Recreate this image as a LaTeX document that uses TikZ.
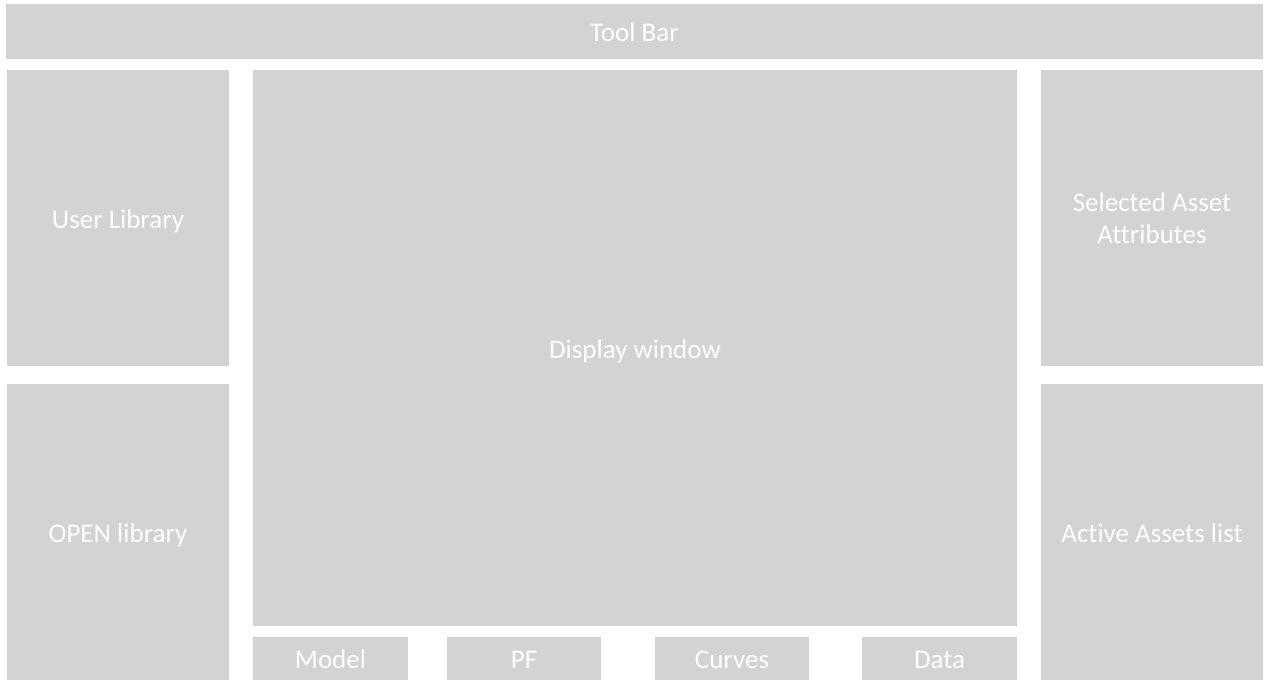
\documentclass[tikz,border=0pt]{standalone}
\usepackage{fontspec}
\setmainfont{Carlito}[Ligatures=NoCommon]
\usepackage{xcolor}

\definecolor{panelgray}{HTML}{D3D3D3}

\begin{document}
\begin{tikzpicture}[x=1pt,y=-1pt,
  panelbase/.style={fill=panelgray,text=white,inner sep=0pt,align=center,
    font=\fontsize{27}{32}\selectfont},
  panel/.style={panelbase,text height=25pt,text depth=5pt}]
\fill[white] (0,0) rectangle (1270,688);
\useasboundingbox (0,0) rectangle (1270,688);

% top bar
\node[panel,minimum width=1257pt,minimum height=55pt] (toolbar) at (634.5,31.5) {Tool Bar};

% left column
\node[panel,minimum width=222pt,minimum height=296pt] (userlib) at (118,218) {User Library};
\node[panel,minimum width=222pt,minimum height=296pt] (openlib) at (118,532) {OPEN library};

% centre
\node[panel,minimum width=764pt,minimum height=556pt] (display) at (635,348) {Display window};

\node[panel,minimum width=155pt,minimum height=43pt] (model) at (330.5,658.5) {Model};
\node[panel,minimum width=154pt,minimum height=43pt] (pf) at (524,658.5) {PF};
\node[panel,minimum width=154pt,minimum height=43pt] (curves) at (732,658.5) {Curves};
\node[panel,minimum width=155pt,minimum height=43pt] (data) at (939.5,658.5) {Data};

% right column
\node[panelbase,minimum width=222pt,minimum height=296pt] (selected) at (1152,218) {Selected Asset\\Attributes};
\node[panel,minimum width=222pt,minimum height=296pt] (active) at (1152,532) {Active Assets list};
\end{tikzpicture}
\end{document}
